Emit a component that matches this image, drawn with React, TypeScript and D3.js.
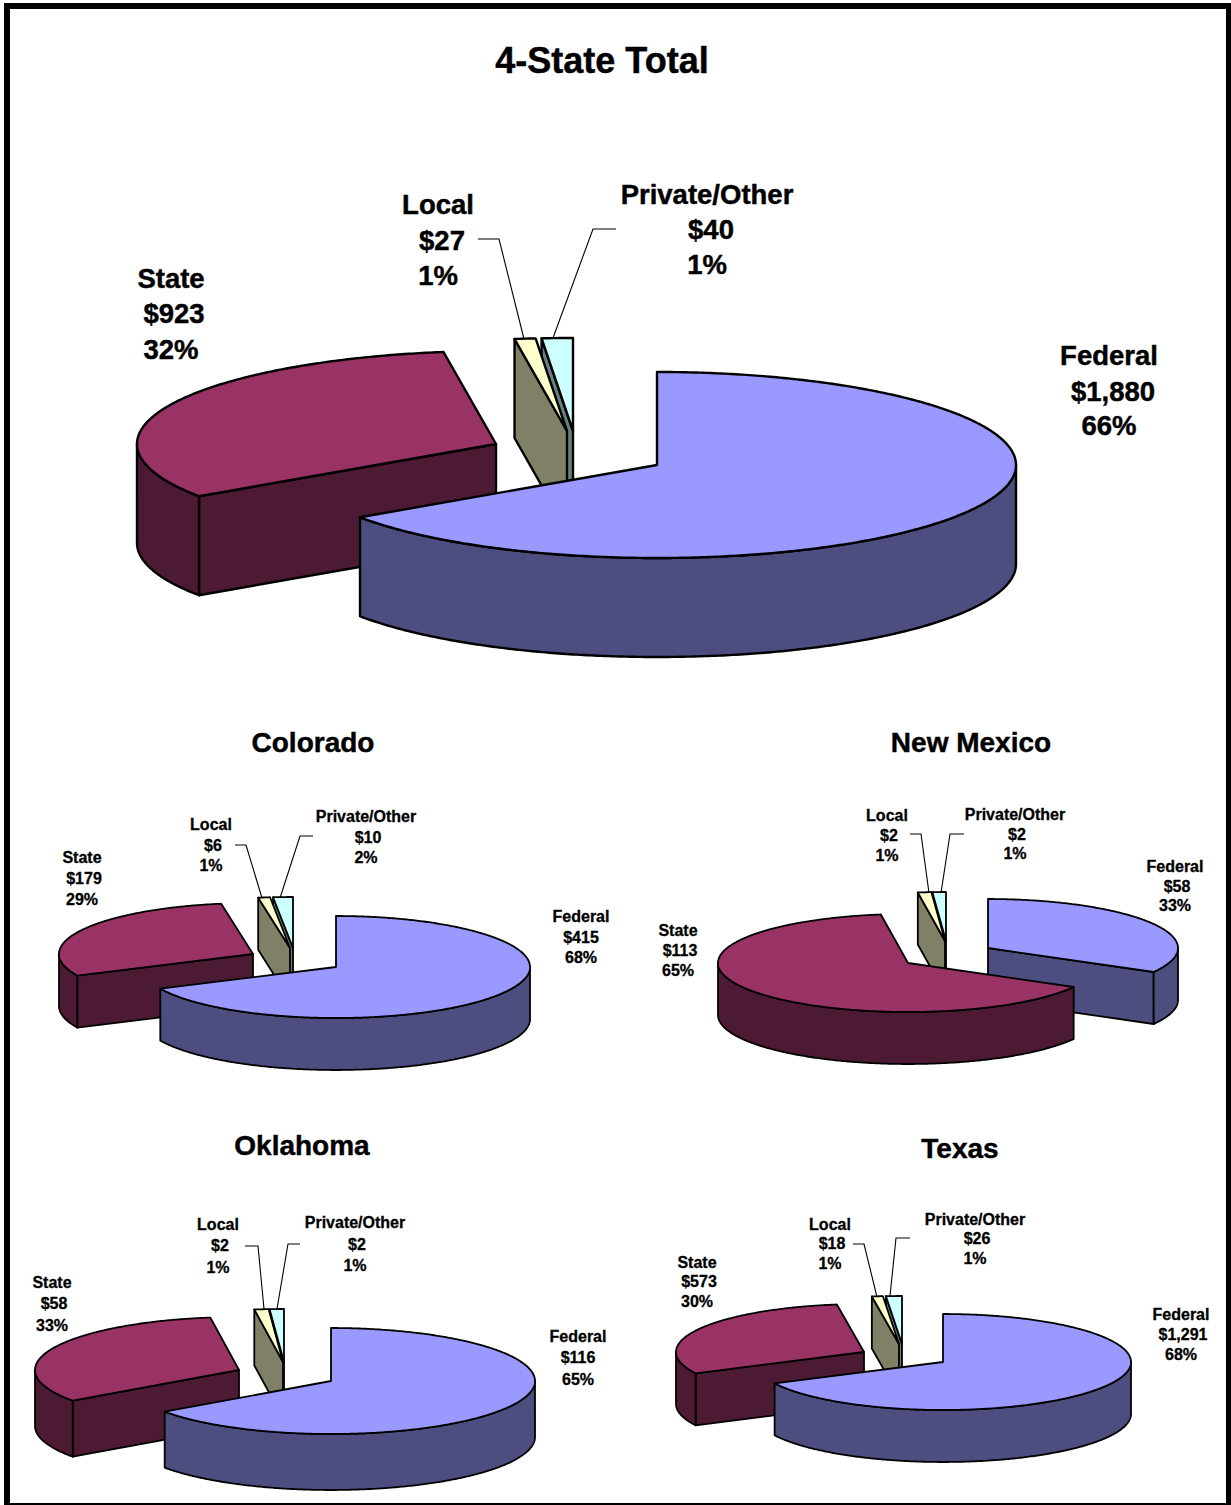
import React from "react";
import * as d3 from "d3";

// Funding sources shared by all five pies, in drawing order around the circle.
const sources = ["Federal", "State", "Local", "Private/Other"];

// Dollar amounts by source, same order as `sources`.
const totalValues = [1880, 923, 27, 40];
const coloradoValues = [415, 179, 6, 10];
const newMexicoValues = [58, 113, 2, 2];
const oklahomaValues = [116, 58, 2, 2];
const texasValues = [1291, 573, 18, 26];

const topColors = ["#9999ff", "#993366", "#ffffcc", "#ccffff"];
const wallColors = ["#4d4d80", "#4d1a33", "#808066", "#668080"];

type LabelPos = { x: number[]; y: number[] };
type PieLayout = {
  title: string;
  values: number[];
  titleX: number;
  titleY: number;
  titleSize: number;
  rx: number;
  ry: number;
  depth: number;
  stroke: number;
  labelSize: number;
  centers: [number, number][];
  labels: LabelPos[];
  leaders: [number, number][][];
};

const pies: PieLayout[] = [
  {
    title: "4-State Total", values: totalValues, titleX: 602, titleY: 73, titleSize: 36,
    rx: 359, ry: 93, depth: 99, stroke: 2.4, labelSize: 27.5,
    centers: [[657, 465], [496, 444], [567, 431], [573, 431]],
    labels: [
      { x: [1109, 1113, 1109], y: [365, 401, 435] },
      { x: [171, 174, 171], y: [288, 323, 359] },
      { x: [438, 442, 438], y: [214, 250, 285] },
      { x: [707, 711, 707], y: [204, 239, 274] },
    ],
    leaders: [[], [],
      [[478, 239], [499, 239], [524, 339]],
      [[616, 229], [593, 229], [553, 338]]],
  },
  {
    title: "Colorado", values: coloradoValues, titleX: 313, titleY: 752, titleSize: 28,
    rx: 194, ry: 51, depth: 52, stroke: 1.8, labelSize: 16,
    centers: [[336, 967], [253, 954], [290, 948], [293, 948]],
    labels: [
      { x: [581, 581, 581], y: [922, 943, 963] },
      { x: [82, 84, 82], y: [863, 884, 905] },
      { x: [211, 213, 211], y: [830, 851, 871] },
      { x: [366, 368, 366], y: [822, 843, 863] },
    ],
    leaders: [[], [],
      [[235, 845], [246, 845], [262, 898]],
      [[313, 836], [300, 836], [280, 898]]],
  },
  {
    title: "New Mexico", values: newMexicoValues, titleX: 971, titleY: 752, titleSize: 28,
    rx: 190, ry: 49, depth: 52, stroke: 1.8, labelSize: 16,
    centers: [[988, 948], [908, 963], [945, 941], [946, 941]],
    labels: [
      { x: [1175, 1177, 1175], y: [872, 892, 911] },
      { x: [678, 680, 678], y: [936, 956, 976] },
      { x: [887, 889, 887], y: [821, 841, 861] },
      { x: [1015, 1017, 1015], y: [820, 840, 859] },
    ],
    leaders: [[], [],
      [[910, 834], [921, 834], [929, 893]],
      [[964, 834], [950, 834], [941, 893]]],
  },
  {
    title: "Oklahoma", values: oklahomaValues, titleX: 302, titleY: 1155, titleSize: 28,
    rx: 204, ry: 53, depth: 56, stroke: 1.8, labelSize: 16,
    centers: [[331, 1381], [239, 1370], [283, 1362], [284, 1362]],
    labels: [
      { x: [578, 578, 578], y: [1342, 1363, 1385] },
      { x: [52, 54, 52], y: [1288, 1309, 1331] },
      { x: [218, 220, 218], y: [1230, 1251, 1273] },
      { x: [355, 357, 355], y: [1228, 1250, 1271] },
    ],
    leaders: [[], [],
      [[245, 1246], [258, 1246], [264, 1309]],
      [[300, 1244], [288, 1244], [277, 1309]]],
  },
  {
    title: "Texas", values: texasValues, titleX: 960, titleY: 1158, titleSize: 28,
    rx: 188, ry: 48, depth: 52, stroke: 1.8, labelSize: 16,
    centers: [[943, 1362], [864, 1352], [899, 1344], [902, 1344]],
    labels: [
      { x: [1181, 1183, 1181], y: [1320, 1340, 1360] },
      { x: [697, 699, 697], y: [1268, 1287, 1307] },
      { x: [830, 832, 830], y: [1230, 1249, 1269] },
      { x: [975, 977, 975], y: [1225, 1244, 1264] },
    ],
    leaders: [[], [],
      [[853, 1244], [864, 1244], [877, 1297]],
      [[910, 1238], [896, 1238], [890, 1296]]],
  },
];

const FONT = '"Liberation Sans", Arial, sans-serif';
const FRONT = Math.PI;

const pieGen = d3.pie<number>().sort(null).value((d) => d);
const lineGen = d3.line<[number, number]>();
const dollars = d3.format(",");

function samples(a0: number, a1: number): number[] {
  const n = Math.max(2, Math.ceil((a1 - a0) / 0.01));
  return d3.range(n + 1).map((i) => a0 + ((a1 - a0) * i) / n);
}

function Slice({ layout, index, start, end }: { layout: PieLayout; index: number; start: number; end: number }) {
  const { rx, ry, depth, stroke } = layout;
  const [cx, cy] = layout.centers[index];
  const x = d3.scaleLinear().domain([-1, 1]).range([cx - rx, cx + rx]);
  const y = d3.scaleLinear().domain([-1, 1]).range([cy - ry, cy + ry]);
  const rim = (a: number): [number, number] => [x(Math.sin(a)), y(-Math.cos(a))];
  const down = (p: [number, number]): [number, number] => [p[0], p[1] + depth];
  const apex: [number, number] = [cx, cy];

  const walls: [number, number][][] = [];
  // A cut face shows only when it turns toward the viewer.
  if (Math.sin(start) < -1e-6) {
    walls.push([apex, rim(start), down(rim(start)), down(apex)]);
  }
  if (Math.sin(end) > 1e-6) {
    walls.push([apex, rim(end), down(rim(end)), down(apex)]);
  }
  // The curved outer face is visible on the near half of the ellipse only.
  const a0 = Math.max(start, Math.PI / 2);
  const a1 = Math.min(end, (Math.PI * 3) / 2);
  if (a1 > a0) {
    const arc = samples(a0, a1).map(rim);
    walls.push([...arc, ...arc.slice().reverse().map(down)]);
  }
  const top: [number, number][] = [apex, ...samples(start, end).map(rim)];
  const shared = { stroke: "#000", strokeWidth: stroke, strokeLinejoin: "round" as const };
  return (
    <g>
      {walls.map((w, i) => (
        <path key={i} d={lineGen(w) + "Z"} fill={wallColors[index]} {...shared} />
      ))}
      <path d={lineGen(top) + "Z"} fill={topColors[index]} {...shared} />
    </g>
  );
}

function Pie({ layout }: { layout: PieLayout }) {
  const arcs = pieGen(layout.values);
  const total = d3.sum(layout.values);
  // Paint back to front: slices nearest the viewer go last.
  const order = d3.range(arcs.length).sort((a, b) => {
    const dist = (i: number) => Math.abs((arcs[i].startAngle + arcs[i].endAngle) / 2 - FRONT);
    return dist(b) - dist(a);
  });
  const lh = layout.labelSize;
  const thicken = lh > 20 ? 0.45 : 0.3;
  return (
    <g>
      <text
        x={layout.titleX}
        y={layout.titleY}
        textAnchor="middle"
        fontFamily={FONT}
        fontWeight="bold"
        fontSize={layout.titleSize}
        fill="#000"
        stroke="#000"
        strokeWidth={0.45}
      >
        {layout.title}
      </text>
      {order.map((i) => (
        <Slice key={i} layout={layout} index={i} start={arcs[i].startAngle} end={arcs[i].endAngle} />
      ))}
      {layout.leaders.map((pts, i) =>
        pts.length ? <path key={i} d={lineGen(pts) ?? ""} fill="none" stroke="#000" strokeWidth={1.1} /> : null,
      )}
      {sources.map((name, i) => {
        const pos = layout.labels[i];
        const lines = [name, `$${dollars(layout.values[i])}`, `${Math.round((layout.values[i] / total) * 100)}%`];
        return (
          <g
            key={name}
            fontFamily={FONT}
            fontWeight="bold"
            fontSize={lh}
            fill="#000"
            stroke="#000"
            strokeWidth={thicken}
            textAnchor="middle"
          >
            {lines.map((t, k) => (
              <text key={k} x={pos.x[k]} y={pos.y[k]}>
                {t}
              </text>
            ))}
          </g>
        );
      })}
    </g>
  );
}

export default function App() {
  return (
    <svg
      width={1231}
      height={1505}
      viewBox="0 0 1231 1505"
      style={{ position: "absolute", left: 0, top: 0, display: "block", background: "#fff" }}
    >
      <path d="M4 3H1231V1505H4Z M10 9V1503H1226V9Z" fill="#000" fillRule="evenodd" />
      {pies.map((p) => (
        <Pie key={p.title} layout={p} />
      ))}
    </svg>
  );
}
